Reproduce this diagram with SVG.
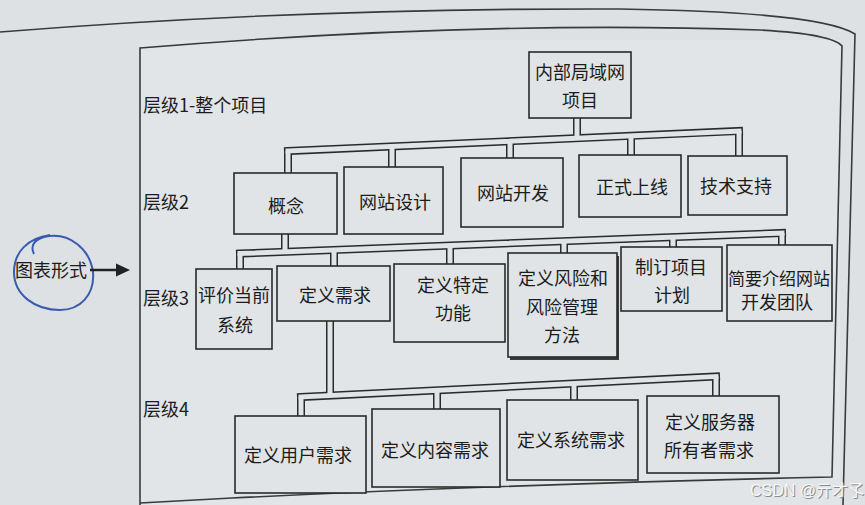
<svg xmlns="http://www.w3.org/2000/svg" width="865" height="505" viewBox="0 0 865 505">
<defs>
<style>
.bg{fill:#dde1e4}
.box{fill:#e0e4e6;stroke:#2a2a2a;stroke-width:1.6}
.t{font-family:"Noto Sans CJK SC","Noto Sans",sans-serif;font-size:18px;fill:#1c1c1c;text-anchor:middle}
.lbl{text-anchor:start}
.po{stroke:#2a2a2a;stroke-width:8;fill:none}
.pi{stroke:#e0e4e6;stroke-width:5;fill:none}
.cap{stroke-linecap:square}
.frame{fill:none;stroke:#3a3a3a;stroke-width:1.6}
</style>
</defs>
<rect class="bg" x="0" y="0" width="865" height="505"/>
<rect x="140" y="40" width="700" height="465" fill="#e1e5e7"/>

<g id="frame">
<path class="frame" d="M0,32 Q300,8 620,9 Q820,12 855,34 L843,505"/>
<path class="frame" d="M140,505 L140,48 Q480,20 760,30 Q832,34 842,46 L832,477 Q520,484 232,498 L140,503"/>
</g>

<g id="connectors">
<g class="po">
<line class="cap" x1="288" y1="151" x2="739" y2="131"/>
<line x1="577" y1="118" x2="577" y2="138.2"/>
<line x1="288" y1="151" x2="288" y2="173"/>
<line x1="392" y1="146.4" x2="392" y2="167"/>
<line x1="510" y1="141.2" x2="510" y2="158"/>
<line x1="631" y1="135.8" x2="631" y2="155"/>
<line x1="739" y1="131" x2="739" y2="156"/>
<line class="cap" x1="240" y1="253.5" x2="782" y2="233"/>
<line x1="285" y1="234" x2="285" y2="251.8"/>
<line x1="240" y1="253.5" x2="240" y2="269"/>
<line x1="334" y1="250" x2="334" y2="266"/>
<line x1="450" y1="245.6" x2="450" y2="264"/>
<line x1="564" y1="241.3" x2="564" y2="253"/>
<line x1="673" y1="237.1" x2="673" y2="247"/>
<line x1="782" y1="233" x2="782" y2="245"/>
<line class="cap" x1="301" y1="397" x2="716" y2="376.5"/>
<line x1="330" y1="321" x2="330" y2="395.6"/>
<line x1="301" y1="397" x2="301" y2="416"/>
<line x1="437" y1="390.3" x2="437" y2="409"/>
<line x1="574" y1="383.5" x2="574" y2="400"/>
<line x1="716" y1="376.5" x2="716" y2="396"/>
</g>
<g class="pi">
<line class="cap" x1="288" y1="151" x2="739" y2="131"/>
<line x1="577" y1="118" x2="577" y2="138.2"/>
<line x1="288" y1="151" x2="288" y2="173"/>
<line x1="392" y1="146.4" x2="392" y2="167"/>
<line x1="510" y1="141.2" x2="510" y2="158"/>
<line x1="631" y1="135.8" x2="631" y2="155"/>
<line x1="739" y1="131" x2="739" y2="156"/>
<line class="cap" x1="240" y1="253.5" x2="782" y2="233"/>
<line x1="285" y1="234" x2="285" y2="251.8"/>
<line x1="240" y1="253.5" x2="240" y2="269"/>
<line x1="334" y1="250" x2="334" y2="266"/>
<line x1="450" y1="245.6" x2="450" y2="264"/>
<line x1="564" y1="241.3" x2="564" y2="253"/>
<line x1="673" y1="237.1" x2="673" y2="247"/>
<line x1="782" y1="233" x2="782" y2="245"/>
<line class="cap" x1="301" y1="397" x2="716" y2="376.5"/>
<line x1="330" y1="321" x2="330" y2="395.6"/>
<line x1="301" y1="397" x2="301" y2="416"/>
<line x1="437" y1="390.3" x2="437" y2="409"/>
<line x1="574" y1="383.5" x2="574" y2="400"/>
<line x1="716" y1="376.5" x2="716" y2="396"/>
</g>
</g>

<g id="labels">
<text class="t lbl" x="143" y="112">层级1-整个项目</text>
<text class="t lbl" x="143" y="209">层级2</text>
<text class="t lbl" x="143" y="305">层级3</text>
<text class="t lbl" x="143" y="416">层级4</text>
</g>

<g id="n-root"><rect class="box" x="529" y="52" width="102" height="66"/><text class="t" x="580" y="79">内部局域网</text><text class="t" x="580" y="107">项目</text></g>

<g id="n-concept"><rect class="box" x="234" y="173" width="103" height="61"/><text class="t" x="286" y="213">概念</text></g>
<g id="n-design"><rect class="box" x="344" y="167" width="99" height="67"/><text class="t" x="395" y="209">网站设计</text></g>
<g id="n-dev"><rect class="box" x="461" y="158" width="102" height="69"/><text class="t" x="513" y="200">网站开发</text></g>
<g id="n-launch"><rect class="box" x="579" y="155" width="102" height="62"/><text class="t" x="632" y="194">正式上线</text></g>
<g id="n-support"><rect class="box" x="688" y="156" width="99" height="59"/><text class="t" x="736" y="193">技术支持</text></g>

<g id="n-eval"><rect class="box" x="196" y="269" width="76" height="80"/><text class="t" x="234" y="302">评价当前</text><text class="t" x="235" y="332">系统</text></g>
<g id="n-req"><rect class="box" x="277" y="266" width="113" height="55"/><text class="t" x="335" y="302">定义需求</text></g>
<g id="n-func"><rect class="box" x="394" y="264" width="111" height="78"/><text class="t" x="453" y="292">定义特定</text><text class="t" x="453" y="320">功能</text></g>
<g id="n-risk"><rect x="510" y="256" width="109" height="104" fill="#3a3a3a"/><rect class="box" x="508" y="253" width="109" height="104"/><text class="t" x="563" y="285">定义风险和</text><text class="t" x="562" y="314">风险管理</text><text class="t" x="562" y="342">方法</text></g>
<g id="n-plan"><rect class="box" x="621" y="247" width="101" height="64"/><text class="t" x="671" y="274">制订项目</text><text class="t" x="672" y="302">计划</text></g>
<g id="n-team"><rect class="box" x="727" y="245" width="105" height="76"/><text class="t" x="779" y="285" style="font-size:17px">简要介绍网站</text><text class="t" x="777" y="309">开发团队</text></g>

<g id="n-user"><rect class="box" x="235" y="416" width="131" height="77"/><text class="t" x="298" y="462">定义用户需求</text></g>
<g id="n-content"><rect class="box" x="372" y="409" width="128" height="78"/><text class="t" x="435" y="457">定义内容需求</text></g>
<g id="n-system"><rect class="box" x="507" y="400" width="131" height="80"/><text class="t" x="571" y="447">定义系统需求</text></g>
<g id="n-server"><rect class="box" x="647" y="396" width="132" height="77"/><text class="t" x="710" y="429">定义服务器</text><text class="t" x="709" y="457">所有者需求</text></g>

<g id="annotation">
<text class="t lbl" x="15" y="277">图表形式</text>
<path d="M34,254 C30,246 34,240 44,237 C70,231 90,250 93,272 C95,295 80,310 60,310 C35,310 14,295 14,272 C14,252 28,238 50,235" fill="none" stroke="#3a5cb0" stroke-width="2"/>
<line x1="90" y1="270" x2="118" y2="270" stroke="#222" stroke-width="2.5"/>
<polygon points="116,263.5 130,270 116,276.5" fill="#222"/>
</g>

<g id="watermark">
<text x="751" y="497" style="font-family:'Liberation Sans','Noto Sans CJK SC',sans-serif;font-size:16px;fill:#8a8a8a">CSDN @亓才孓</text>
<text x="750" y="496" style="font-family:'Liberation Sans','Noto Sans CJK SC',sans-serif;font-size:16px;fill:#f7f7f7">CSDN @亓才孓</text>
</g>
</svg>
